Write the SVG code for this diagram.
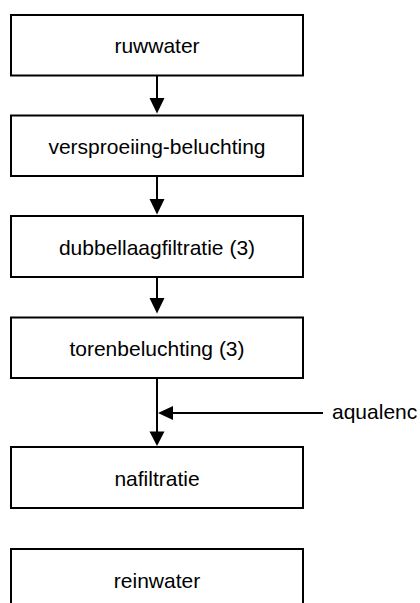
<svg xmlns="http://www.w3.org/2000/svg" width="420" height="603" viewBox="0 0 420 603">
<style>
.box{fill:#fff;stroke:#000;stroke-width:2}
.lbl{font-family:"Liberation Sans",Arial,sans-serif;font-size:21px;fill:#000;text-anchor:middle}
.side{font-family:"Liberation Sans",Arial,sans-serif;font-size:21px;fill:#000}
.ln{stroke:#000;stroke-width:2;fill:none}
.ah{fill:#000}
</style>
<rect width="420" height="603" fill="#fff"/>
<g id="connectors">
<line class="ln" x1="157" y1="76" x2="157" y2="100"/>
<polygon class="ah" points="149.5,98 164.5,98 157,113.5"/>
<line class="ln" x1="157" y1="176" x2="157" y2="201"/>
<polygon class="ah" points="149.5,199 164.5,199 157,214.5"/>
<line class="ln" x1="157" y1="277" x2="157" y2="300"/>
<polygon class="ah" points="149.5,298 164.5,298 157,313.5"/>
<line class="ln" x1="157" y1="378" x2="157" y2="433"/>
<polygon class="ah" points="149.5,431.5 164.5,431.5 157,446"/>
<line class="ln" x1="171" y1="413" x2="323" y2="413"/>
<polygon class="ah" points="158,413 173,406 173,420"/>
</g>
<g id="n1"><rect class="box" x="11" y="15" width="292" height="60.5"/><text class="lbl" x="157" y="53">ruwwater</text></g>
<g id="n2"><rect class="box" x="11" y="115.5" width="292" height="60.5"/><text class="lbl" x="157" y="154">versproeiing-beluchting</text></g>
<g id="n3"><rect class="box" x="11" y="216" width="292" height="61"/><text class="lbl" x="157" y="254.5">dubbellaagfiltratie (3)</text></g>
<g id="n4"><rect class="box" x="11" y="317.5" width="292" height="60.5"/><text class="lbl" x="157" y="356">torenbeluchting (3)</text></g>
<g id="n5"><rect class="box" x="11" y="447" width="292" height="61"/><text class="lbl" x="157" y="486">nafiltratie</text></g>
<g id="n6"><rect class="box" x="11" y="549" width="292" height="61"/><text class="lbl" x="157" y="587.5">reinwater</text></g>
<g id="aqualenc"><text class="side" x="332" y="418.5">aqualenc</text></g>
</svg>
